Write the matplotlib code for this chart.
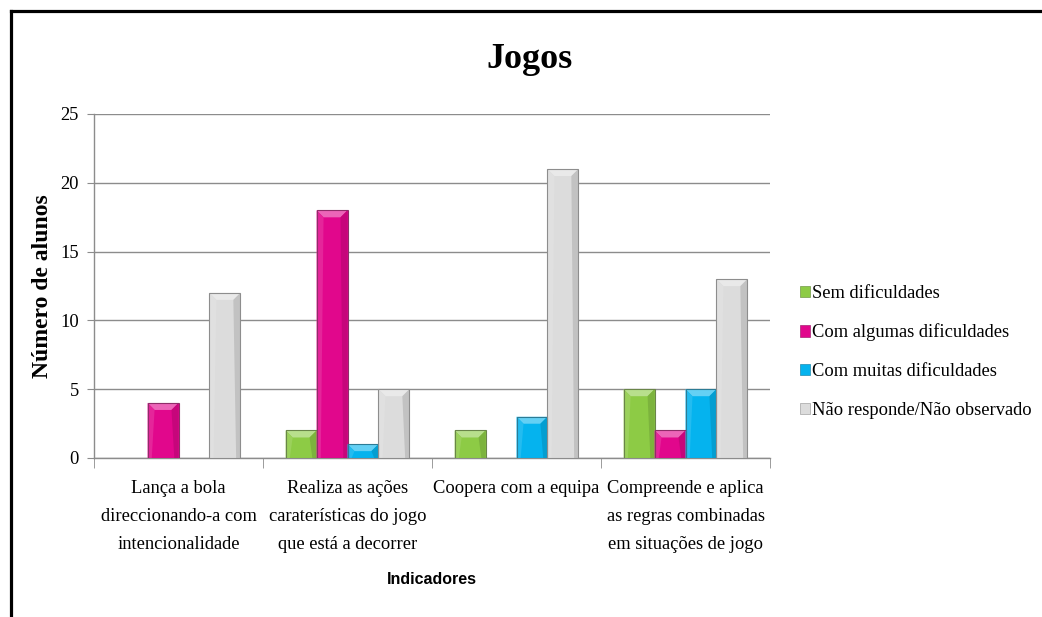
# -*- coding: utf-8 -*-
"""
Jogos - número de alunos por indicador (gráfico de barras com efeito de relevo)
"""
import matplotlib
matplotlib.use('Agg')
import matplotlib.pyplot as plt
from matplotlib.patches import Polygon, Rectangle
from matplotlib.lines import Line2D
from matplotlib.colors import to_rgb
import numpy as np

plt.rcParams['font.family'] = ['Liberation Serif', 'DejaVu Serif']

# dados
categorias = ['Lança a bola\ndireccionando-a com\nintencionalidade',
              'Realiza as ações\ncaraterísticas do jogo\nque está a decorrer',
              'Coopera com a equipa',
              'Compreende e aplica\nas regras combinadas\nem situações de jogo']
series = ['Sem dificuldades', 'Com algumas dificuldades',
          'Com muitas dificuldades', 'Não responde/Não observado']
sem_dif = [0, 2, 2, 5]
algumas_dif = [4, 18, 0, 2]
muitas_dif = [0, 1, 3, 5]
nao_responde = [12, 5, 21, 13]
valores = [sem_dif, algumas_dif, muitas_dif, nao_responde]
cores = ['#8DCB45', '#E1078C', '#05B3EE', '#DCDCDC']
y_ticks = [0, 5, 10, 15, 20, 25]

W, H = 1042, 617
fig = plt.figure(figsize=(W / 100, H / 100), dpi=100)

# área do gráfico em pixels
ax_l, ax_r, ax_t, ax_b = 94, 770, 114, 458
ax = fig.add_axes([ax_l / W, 1 - ax_b / H, (ax_r - ax_l) / W, (ax_b - ax_t) / H])

n = len(categorias)
largura = 0.183
x = np.arange(n)
px2x = n / (ax_r - ax_l)
px2y = 25 / (ax_b - ax_t)


def mistura(c, alvo, f):
    c = np.array(to_rgb(c))
    return tuple(c + (np.array(alvo) - c) * f)


def relevo(ax, barra, cor):
    """desenha o efeito de bisel por cima da barra"""
    x0, y0 = barra.get_x(), barra.get_y()
    w, h = barra.get_width(), barra.get_height()
    if h <= 0:
        return
    dx = 7 * px2x
    dy = min(7 * px2y, h / 2)
    topo = [(x0, y0 + h), (x0 + w, y0 + h), (x0 + w - dx, y0 + h - dy), (x0 + dx, y0 + h - dy)]
    ax.add_patch(Polygon(topo, closed=True, facecolor=mistura(cor, (1, 1, 1), 0.38),
                         edgecolor='none', zorder=4))
    dir_ = [(x0 + w, y0 + h), (x0 + w, y0), (x0 + w - dx * 0.6, y0), (x0 + w - dx, y0 + h - dy)]
    ax.add_patch(Polygon(dir_, closed=True, facecolor=mistura(cor, (0, 0, 0), 0.12),
                         edgecolor='none', zorder=4))
    esq = [(x0, y0 + h), (x0, y0), (x0 + dx * 0.6, y0), (x0 + dx, y0 + h - dy)]
    ax.add_patch(Polygon(esq, closed=True, facecolor=mistura(cor, (1, 1, 1), 0.12),
                         edgecolor='none', zorder=4))
    ax.add_patch(Rectangle((x0, y0), w, h, facecolor='none',
                           edgecolor=mistura(cor, (0.3, 0.3, 0.3), 0.55), lw=0.8, zorder=5))


for i, (vals, cor) in enumerate(zip(valores, cores)):
    pos = x + (i - 1.5) * largura
    barras = ax.bar(pos, vals, width=largura, color=cor, zorder=3, label=series[i])
    for b in barras:
        relevo(ax, b, cor)

ax.set_xlim(-0.5, n - 0.5)
ax.set_ylim(0, 25)
ax.set_yticks(y_ticks)
ax.yaxis.grid(True, color='#8C8C8C', lw=1.0)
ax.set_axisbelow(True)
for s in ['top', 'right']:
    ax.spines[s].set_visible(False)
for s in ['left', 'bottom']:
    ax.spines[s].set_color('#8C8C8C')
    ax.spines[s].set_linewidth(1.0)

ax.set_xticks(x)
ax.set_xticklabels(categorias, fontsize=13.3, linespacing=1.85, va='top')
ax.tick_params(axis='x', which='major', length=0, pad=16)
ax.set_xticks(np.arange(n + 1) - 0.5, minor=True)
ax.tick_params(axis='x', which='minor', length=7, color='#8C8C8C', direction='out')
ax.tick_params(axis='y', labelsize=13.3, length=5, color='#8C8C8C', pad=6)

ax.set_ylabel('Número de alunos', fontsize=17, fontweight='bold')
ax.yaxis.set_label_coords(-(ax_l - 53) / (ax_r - ax_l), 0.5)

fig.text(530 / W, 1 - 60 / H, 'Jogos', fontsize=26, fontweight='bold',
         ha='center', va='center')
fig.text(432 / W, 1 - 580 / H, 'Indicadores', fontsize=11.5, fontweight='bold',
         family=['Liberation Sans', 'DejaVu Sans'], ha='center', va='center')

handles = [Rectangle((0, 0), 1, 1, facecolor=c,
                     edgecolor=mistura(c, (0.3, 0.3, 0.3), 0.4), lw=0.5) for c in cores]
fig.legend(handles, series, loc='upper left', bbox_to_anchor=(800 / W, 1 - 285 / H),
           frameon=False, fontsize=13.3, handlelength=0.55, handleheight=0.55,
           handletextpad=0.1, labelspacing=1.17, borderpad=0, borderaxespad=0)

# moldura
fig.add_artist(Line2D([10.5 / W, 10.5 / W], [0, 1 - 10.5 / H], color='black', lw=2.3,
                      transform=fig.transFigure, solid_capstyle='projecting'))
fig.add_artist(Line2D([10.5 / W, 1], [1 - 10.5 / H, 1 - 10.5 / H], color='black', lw=2.3,
                      transform=fig.transFigure, solid_capstyle='projecting'))

fig.savefig('out.png', dpi=100)
